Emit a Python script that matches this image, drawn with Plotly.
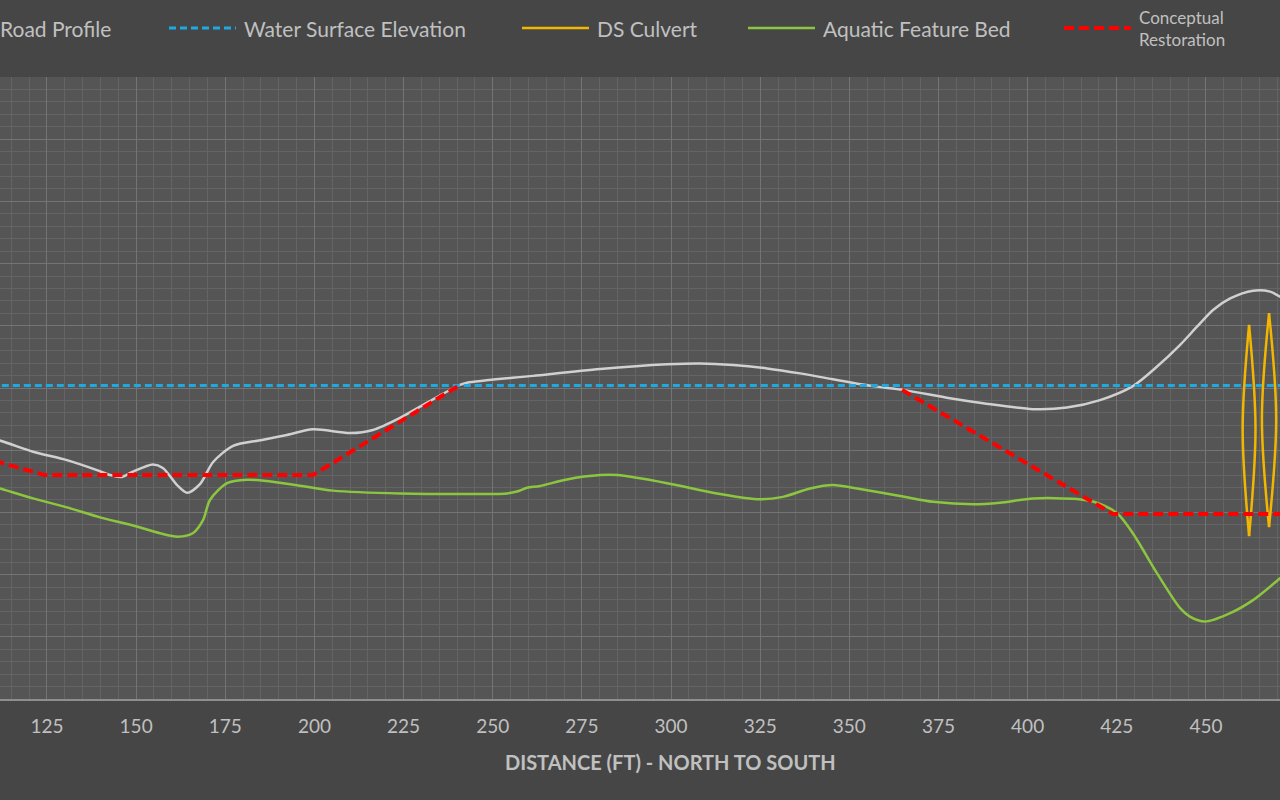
import plotly.graph_objects as go

# ---------------- data ----------------
road_x = [106.2, 111.8, 121.1, 130.6, 139.0, 142.7, 146.0, 149.1, 154.7, 157.5, 161.5, 164.3,
          167.9, 171.6, 177.2, 185.3, 192.3, 199.6, 210.0, 216.4, 224.0, 232.4, 240.8, 242.8,
          261.3, 280.1, 298.9, 308.1, 317.4, 326.9, 336.2, 345.4, 356.6, 365.1, 378.2, 387.5,
          401.5, 411.0, 420.3, 429.5, 436.3, 442.7, 447.5, 452.0, 456.8, 463.2, 468.0, 470.8, 476.4]
road_y = [98.45, 98.31, 97.95, 97.68, 97.36, 97.20, 97.14, 97.31, 97.54, 97.43, 96.88, 96.63,
          96.91, 97.62, 98.14, 98.33, 98.49, 98.67, 98.55, 98.65, 99.04, 99.58, 100.10, 100.17,
          100.39, 100.61, 100.76, 100.79, 100.74, 100.63, 100.47, 100.28, 100.06, 99.94, 99.67, 99.51,
          99.32, 99.37, 99.61, 100.06, 100.69, 101.38, 101.97, 102.51, 102.88, 103.13, 103.10, 102.94, 102.67]

wse_x = [100.0, 480.0]
wse_y = [100.08, 100.08]

culvert_x = [462.1, 460.3, 462.1, None, 462.1, 463.9, 462.1, None,
             467.7, 465.7, 467.7, None, 467.7, 469.7, 467.7]
culvert_y = [95.24, 98.70, 102.03, None, 102.03, 98.70, 95.24, None,
             95.53, 99.00, 102.41, None, 102.41, 99.00, 95.53]

bed_x = [106.2, 111.8, 121.1, 130.6, 139.9, 149.1, 156.7, 161.7, 165.9, 168.8, 170.7, 175.5,
         181.1, 186.7, 195.9, 205.2, 224.0, 254.0, 256.8, 259.6, 263.3, 270.8, 280.1, 284.9,
         298.9, 312.9, 325.0, 331.4, 339.0, 345.4, 353.0, 364.2, 373.5, 384.7, 392.2, 401.5,
         413.8, 419.4, 425.1, 429.5, 436.3, 442.7, 445.5, 449.7, 456.8, 463.2, 470.8, 476.4]
bed_y = [96.95, 96.77, 96.45, 96.16, 95.84, 95.58, 95.33, 95.22, 95.33, 95.76, 96.40, 96.94,
         97.05, 97.01, 96.86, 96.70, 96.61, 96.61, 96.67, 96.79, 96.85, 97.06, 97.20, 97.20,
         96.94, 96.61, 96.42, 96.50, 96.77, 96.88, 96.75, 96.53, 96.34, 96.26, 96.31, 96.45,
         96.43, 96.31, 95.97, 95.33, 94.04, 92.93, 92.65, 92.49, 92.76, 93.18, 93.88, 94.41]

regrade_x = [106.2, 124.4, 199.6, 240.8, None, 364.8, 423.9, 473.6]
regrade_y = [97.79, 97.20, 97.20, 100.10, None, 99.94, 95.95, 95.95]

x_ticks = [125, 150, 175, 200, 225, 250, 275, 300, 325, 350, 375, 400, 425, 450]

legend_names = ["Road Profile", "Water Surface Elevation", "DS Culvert",
                "Aquatic Feature Bed", "Conceptual Restoration"]

# ---------------- styles ----------------
TXT = "#c0c0c0"
FONT = "Lato"
C_ROAD = "#d0d0d0"
C_WSE = "#1fa9e1"
C_CULV = "#f2b600"
C_BED = "#8cc63f"
C_REG = "#ff0000"

W_ROAD, W_WSE, W_CULV, W_BED, W_REG = 2.5, 3, 2.5, 2.5, 4
D_WSE, D_REG = "7px,4px", "10px,5px"

fig = go.Figure()
fig.add_trace(go.Scatter(x=road_x, y=road_y, mode="lines", name=legend_names[0],
                         line=dict(color=C_ROAD, width=W_ROAD, shape="spline", smoothing=0.8)))
fig.add_trace(go.Scatter(x=wse_x, y=wse_y, mode="lines", name=legend_names[1],
                         line=dict(color=C_WSE, width=W_WSE, dash=D_WSE)))
fig.add_trace(go.Scatter(x=culvert_x, y=culvert_y, mode="lines", name=legend_names[2],
                         line=dict(color=C_CULV, width=W_CULV, shape="spline", smoothing=1.0),
                         connectgaps=False))
fig.add_trace(go.Scatter(x=bed_x, y=bed_y, mode="lines", name=legend_names[3],
                         line=dict(color=C_BED, width=W_BED, shape="spline", smoothing=0.8)))
fig.add_trace(go.Scatter(x=regrade_x, y=regrade_y, mode="lines", name=legend_names[4],
                         line=dict(color=C_REG, width=W_REG, dash=D_REG), connectgaps=False))

# ---------------- layout ----------------
PLOT_TOP, PLOT_BOT, H, W = 77, 699, 800, 1280
ph = PLOT_BOT - PLOT_TOP

def py2paper(py):
    return (PLOT_BOT - py) / ph

x0, x1 = 111.83, 470.77

fig.update_layout(
    width=W, height=H,
    margin=dict(l=0, r=0, t=PLOT_TOP, b=H - PLOT_BOT, pad=0),
    paper_bgcolor="#464646",
    plot_bgcolor="#555555",
    showlegend=False,
    xaxis=dict(range=[x0, x1], tickmode="array", tickvals=x_ticks,
               showgrid=True, gridcolor="#747474", gridwidth=1,
               minor=dict(dtick=5, tick0=0, showgrid=True, gridcolor="#646464", gridwidth=1),
               showline=True, linecolor="#8e8e8e", linewidth=2, zeroline=False,
               ticks="", ticklabelstandoff=9,
               tickfont=dict(family=FONT, size=19, color=TXT)),
    yaxis=dict(range=[90, 110], dtick=2, tick0=90, showgrid=True, gridcolor="#747474", gridwidth=1,
               minor=dict(dtick=0.4, showgrid=True, gridcolor="#646464", gridwidth=1),
               showticklabels=False, zeroline=False, showline=False, ticks=""),
)

# axis title (centered on the original, wider chart)
fig.add_annotation(text="<b>DISTANCE (FT) - NORTH TO SOUTH</b>", xref="paper", yref="paper",
                   x=670 / W, y=py2paper(762), xanchor="center", yanchor="middle",
                   showarrow=False, font=dict(family=FONT, size=20, color=TXT))

# legend drawn along the top
leg_items = [
    (legend_names[0], -75, C_ROAD, W_ROAD, "solid", 21),
    (legend_names[1], 169, C_WSE, W_WSE, D_WSE, 21),
    (legend_names[2], 522, C_CULV, W_CULV, "solid", 21),
    (legend_names[3], 748, C_BED, W_BED, "solid", 21),
    (legend_names[4], 1064, C_REG, W_REG, D_REG, 21),
]
LEG_Y = 28
for name, lx, col, lw, dash, fs in leg_items:
    fig.add_shape(type="line", xref="paper", yref="paper",
                  x0=lx / W, x1=(lx + 67) / W, y0=py2paper(LEG_Y), y1=py2paper(LEG_Y),
                  line=dict(color=col, width=lw, dash=dash))
    label = name.replace("Conceptual ", "Conceptual<br>") if name.startswith("Conceptual") else name
    fig.add_annotation(text=label, xref="paper", yref="paper", x=(lx + 73) / W, y=py2paper(LEG_Y),
                       xanchor="left", yanchor="middle", align="left", showarrow=False,
                       font=dict(family=FONT, size=fs if "<br>" not in label else 17, color=TXT))

fig.write_html("out.html")
